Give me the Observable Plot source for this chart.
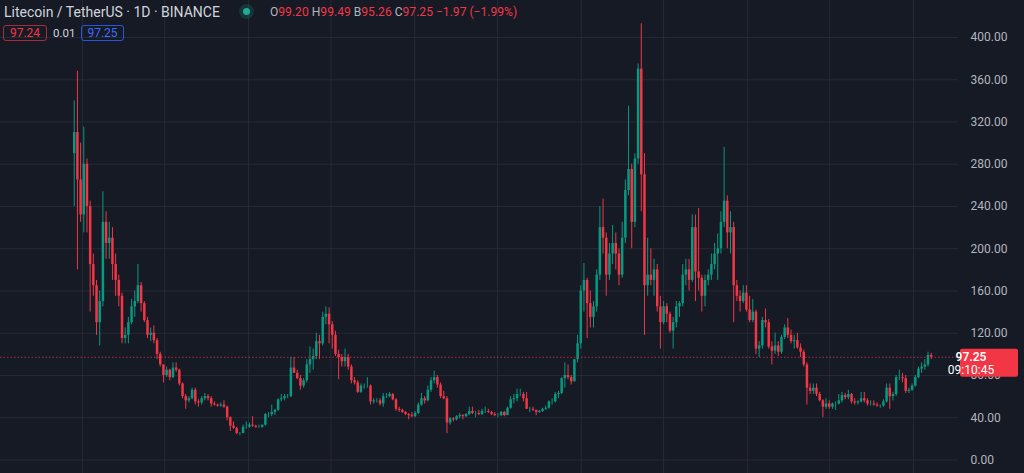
<!DOCTYPE html>
<html><head><meta charset="utf-8">
<script src="https://cdn.jsdelivr.net/npm/d3@7"></script>
<script src="https://cdn.jsdelivr.net/npm/@observablehq/plot@0.6"></script>
<style>
html,body{margin:0;padding:0;background:#161a25;overflow:hidden}
#wrap{position:relative;width:1024px;height:473px}
#legend{position:absolute;left:0;top:0;width:1024px;height:50px;font-family:Roboto,"Noto Sans",sans-serif;pointer-events:none}
.t{position:absolute;white-space:nowrap}
#title{left:4px;top:3px;font-size:14px;color:#d1d4dc;line-height:18px}
#dotH{left:239px;top:4px;width:15px;height:15px;border-radius:50%;background:rgba(8,153,129,0.22)}
#dot{left:243px;top:8px;width:7px;height:7px;border-radius:50%;background:#22ab94}
#ohlc{left:270px;top:4px;font-size:12.1px;line-height:16px;color:#b2b5be}
#ohlc span{color:#f23645}
.box{top:25px;height:14px;line-height:14px;font-size:12px;text-align:center;border-radius:3px}
#bid{left:3px;width:42px;border:1px solid rgba(242,54,69,0.65);color:#f23645}
#spr{left:53px;top:25px;line-height:16px;font-size:11.5px;color:#d1d4dc}
#ask{left:81px;width:41px;border:1px solid rgba(41,98,255,0.85);color:#3b6cff}
</style></head><body>
<div id="wrap"><div id="chart"></div>
<div id="legend">
  <div class="t" id="title">Litecoin / TetherUS · 1D · BINANCE</div>
  <div class="t" id="dotH"></div><div class="t" id="dot"></div>
  <div class="t" id="ohlc">O<span>99.20</span> H<span>99.49</span> B<span>95.26</span> C<span>97.25</span> <span>−1.97 (−1.99%)</span></div>
  <div class="t box" id="bid">97.24</div>
  <div class="t" id="spr">0.01</div>
  <div class="t box" id="ask">97.25</div>
</div></div>
<script>
// Weekly LTC/USDT candles (week starting Monday); open = previous week's close
const firstOpen = 290;
const high2017 = [340, 368, 300];
const low2017 = [240, 180, 225];
const close2017 = [310, 265, 232];

const high2018 = [315,285,245,195,170,160,254,235,225,220,195,175,158,125,135,152,160,185,168,150,135,125,127,115,102,90,88,86,92,92,86,73,62,60,68,68,57,60,63,62,60,55,53,54,56,51,41,36,31,26,33,36,35];
const low2018 = [215,215,140,155,118,108,145,190,190,170,155,145,110,110,110,128,135,148,140,130,115,112,110,95,88,73,78,75,77,83,70,58,48,54,57,52,50,52,56,56,50,51,50,50,49,37,27,29,24,23,25,29,30];
const close2018 = [280,240,185,165,130,150,225,205,210,185,170,155,115,118,130,145,150,165,148,132,118,120,113,100,90,80,85,78,87,85,72,60,56,58,66,55,54,58,60,58,53,52,51,52,50,40,32,30,25,25,31,31,33];

const high2019 = [41,33,33,33,44,45,52,48,58,62,62,62,97,97,85,80,77,95,107,105,120,118,140,145,144,131,122,104,100,105,100,90,78,75,72,72,78,71,58,58,58,63,63,64,63,58,50,48,46,44,45,46];
const low2019 = [31,30,30,30,32,40,41,42,46,55,56,58,59,82,76,66,68,73,82,85,95,95,108,128,110,105,98,76,88,88,85,72,71,63,63,67,68,52,53,54,51,50,58,59,56,46,45,44,42,38,40,40];
const close2019 = [32,31,31,33,43,43,45,47,57,58,60,60,87,82,77,70,75,90,95,98,112,110,135,138,128,118,100,97,93,97,88,75,73,64,70,70,70,55,56,56,53,60,60,62,57,48,47,45,43,42,41,44];

const high2020 = [54,63,60,70,78,84,80,73,65,60,40,40,42,44,43,44,50,50,46,47,48,50,48,46,45,44,46,46,50,60,62,67,67,64,64,50,50,47,47,49,51,56,58,64,65,78,92,90,80,95,118,165];
const low2020 = [43,51,53,55,64,72,68,58,57,25,33,36,37,39,38,40,42,43,40,42,42,44,44,42,41,40,41,41,42,48,53,55,60,55,48,45,46,42,44,45,47,48,52,54,58,62,68,76,71,74,92,105];
const close2020 = [52,58,56,66,75,78,71,60,58,35,39,38,41,42,41,43,46,44,44,43,46,46,45,43,42,42,45,42,49,57,58,62,62,58,48,48,47,45,46,48,49,55,55,62,63,77,80,78,74,95,110,160];

const high2021 = [186,172,160,150,180,240,247,215,205,222,215,200,225,265,335,280,290,375,413,290,210,200,190,185,155,150,148,140,135,150,150,185,190,190,232,232,238,175,175,180,195,205,214,235,296,250,235,225,170,160,165,165];
const low2021 = [140,115,125,125,140,170,195,155,170,185,180,165,172,205,250,200,220,280,235,118,155,165,155,140,105,128,130,120,105,125,135,145,165,160,168,150,160,140,145,165,170,180,170,195,220,200,195,130,150,140,148,140];
const close2021 = [170,148,135,145,175,220,210,175,195,205,195,175,210,255,275,225,285,370,270,165,175,170,180,145,130,145,138,122,130,145,148,175,180,170,220,178,172,155,170,175,185,195,200,225,245,215,220,165,155,150,158,142];

const high2022 = [155,152,142,112,135,143,133,112,120,112,118,128,134,123,118,120,110,104,92,72,72,72,64,57,58,56,54,55,62,64,63,66,63,58,56,64,64,58,56,56,54,52,57,72,72,64,80,85,82,80,68,72];
const low2022 = [130,130,100,97,105,125,105,90,100,98,100,114,115,110,105,105,97,88,52,62,62,60,55,40,48,48,48,47,52,54,57,57,53,52,52,54,54,51,51,51,50,49,50,54,48,56,60,75,73,63,63,65];
const close2022 = [132,140,105,108,132,130,107,103,108,102,116,125,118,112,113,106,102,90,68,65,68,62,56,50,53,50,53,53,56,61,59,62,55,54,55,58,56,53,53,52,51,51,55,68,60,62,78,78,77,65,66,70];

const high2023 = [80,88,92,95,102,101];
const low2023 = [69,77,82,85,88,95];
const close2023 = [78,86,88,90,99,97.25];

const yearStarts = ["2017-12-11","2018-01-01","2019-01-07","2020-01-06","2021-01-04","2022-01-03","2023-01-02"];
const highs = [high2017, high2018, high2019, high2020, high2021, high2022, high2023];
const lows = [low2017, low2018, low2019, low2020, low2021, low2022, low2023];
const closes = [close2017, close2018, close2019, close2020, close2021, close2022, close2023];

const priceTicks = [0,40,80,120,160,200,240,280,320,360,400];
const lastPrice = 97.25;
const lastTime = "09:10:45";

const UP = "#089981", DOWN = "#f23645";

// build table
const candles = [];
let prev = firstOpen;
yearStarts.forEach((s, yi) => {
  const start = new Date(s + "T00:00:00Z");
  closes[yi].forEach((c, i) => {
    const date = d3.utcDay.offset(d3.utcWeek.offset(start, i), 3);
    candles.push({date, open: prev, high: highs[yi][i], low: lows[yi][i], close: c});
    prev = c;
  });
});

const halfYears = d3.utcMonth.every(6).range(new Date("2018-01-01T00:00:00Z"), new Date("2023-02-01T00:00:00Z"));

const chart = Plot.plot({
  width: 1024, height: 473,
  marginTop: 0, marginBottom: 0, marginLeft: 0, marginRight: 66,
  style: {background: "#161a25", color: "#b2b5be", fontFamily: "Roboto, 'Noto Sans', sans-serif", fontSize: "12px"},
  x: {type: "utc", domain: [new Date("2017-07-05T00:00:00Z"), new Date("2023-04-10T00:00:00Z")], axis: null},
  y: {domain: [-12.78, 435.0], axis: null},
  color: {type: "identity"},
  marks: [
    Plot.gridX(halfYears, {stroke: "#2a2e39", strokeOpacity: 0.8}),
    Plot.gridY(priceTicks, {stroke: "#2a2e39", strokeOpacity: 0.8}),
    Plot.ruleX(candles, {x: "date", y1: "low", y2: "high", stroke: d => d.close >= d.open ? UP : DOWN, strokeWidth: 1}),
    Plot.ruleX(candles, {x: "date", y1: "open", y2: "close", stroke: d => d.close >= d.open ? UP : DOWN, strokeWidth: 2.5}),
    Plot.ruleY([lastPrice], {stroke: DOWN, strokeOpacity: 0.7, strokeDasharray: "1.5,2"}),
    Plot.axisY(priceTicks, {anchor: "right", tickSize: 0, tickPadding: 12, tickFormat: d => d.toFixed(2), fill: "#b2b5be", fontSize: 12})
  ]
});
document.getElementById("chart").appendChild(chart);

// last price label on the price scale
const ys = chart.scale("y").apply(lastPrice);
const svg = d3.select(chart);
const g = svg.append("g");
g.append("rect").attr("x", 960).attr("y", ys - 8).attr("width", 58).attr("height", 28).attr("rx", 2).attr("fill", DOWN);
g.append("text").attr("x", 971).attr("y", ys).attr("dy", "0.35em").attr("fill", "#fff").attr("font-size", 12).attr("font-weight", 600).text(lastPrice.toFixed(2));
g.append("text").attr("x", 971).attr("y", ys + 13).attr("dy", "0.35em").attr("fill", "#fff").attr("font-size", 12).text(lastTime);
</script>
</body></html>
